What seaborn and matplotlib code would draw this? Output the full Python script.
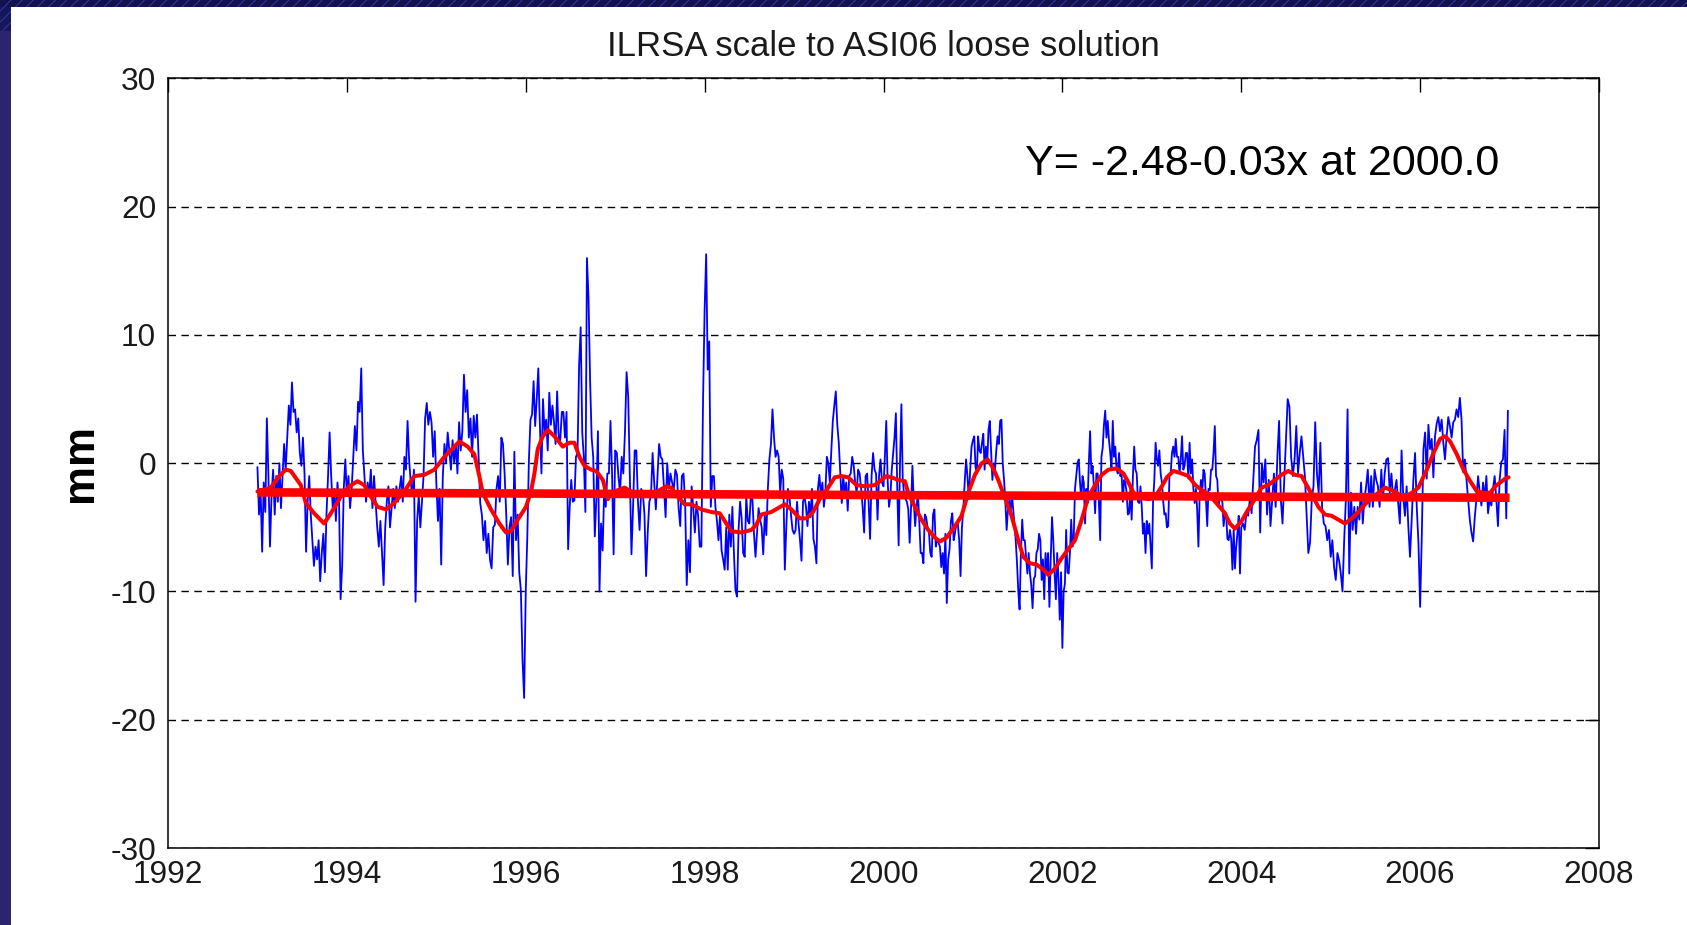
import numpy as np
import pandas as pd
import matplotlib
matplotlib.use("Agg")
import matplotlib.pyplot as plt
import seaborn as sns
from matplotlib.patches import Rectangle

# ---------------- data ----------------
years = list(range(1993, 2007))

blue_1993 = [-0.3, -4.0, -2.0, -6.9, -1.5, -3.8, 3.5, -1.0, -6.5, -2.5,
             -0.5, -4.0, -1.0, -3.0, 0.0, -3.5, -1.0, 1.5, -0.5, 2.0,
             4.5, 3.0, 6.3, 4.0, 4.2, 2.4, 3.5, 0.8, -0.2, 2.0,
             -0.8, -6.9, -3.0, -1.0, -4.0, -6.0, -8.0, -6.5, -7.5, -6.0,
             -9.2, -7.0, -5.5, -8.5, -4.0, -1.0, 2.4, -1.0, -3.5, -2.0,
             -4.5, -1.5, -3.0, -10.6, -8.0, -2.0, 0.3]
blue_1994 = [-2.5, -1.0, -3.5, -2.0, 0.5, 2.9, 1.0, 4.8, 4.0, 7.4,
             1.0, -1.0, -3.0, -1.5, -2.5, -0.5, -3.5, -1.0, -3.0, -5.0,
             -6.5, -4.5, -7.0, -9.5, -5.0, -3.0, -1.8, -5.0, -3.5, -2.0,
             -3.5, -1.8, -3.0, -2.0, -1.0, -3.0, 0.5, -0.5, 3.3, 0.2,
             -1.5, -2.5, -0.5, -10.8, -4.5, -2.5, -5.0, -3.0, -1.0, 3.5,
             4.7, 3.0, 4.0, 3.2, 0.5, 2.5]
blue_1995 = [-1.5, -4.5, -2.0, -7.9, -1.0, 1.5, 0.0, 2.4, 1.0, -0.5,
             1.8, 0.0, 1.5, -0.8, 3.2, 1.0, 2.5, 6.9, 4.0, 5.7,
             2.0, 3.5, 0.5, 3.7, 2.0, 3.8, 0.5, -3.1, -4.0, -6.0,
             -4.5, -7.0, -5.5, -7.5, -8.2, -5.0, -4.8, -2.0, -1.0, -3.0,
             2.0, 1.5, -0.8, -4.0, -7.9, -5.0, -4.2, -8.8, 0.9, -6.0,
             -4.0, -8.5, -9.9, -15.3, -18.3]
blue_1996 = [-10.0, -5.7, 0.2, 3.4, 3.8, 6.4, 2.9, 5.0, 7.4, 3.0,
             -0.8, 5.0, 2.4, 3.4, 1.0, 5.5, 3.0, 4.5, 3.2, 1.5,
             5.6, 2.0, 1.8, 4.0, 4.0, 2.0, 4.0, -6.7, -3.4, -1.3,
             -3.0, -2.9, 0.5, 0.8, 7.6, 10.6, 2.4, 0.5, -3.8, 16.0,
             12.9, 6.5, 2.0, 0.5, -5.7, -2.8, 2.5, -10.0, -4.7, -6.8,
             -2.0, -3.4, -0.8, -0.8, 3.3, -0.8, -7.1]
blue_1997 = [1.0, 0.8, -1.0, -2.3, 0.5, -0.8, 2.4, 7.1, 5.2, -0.8,
             -7.1, -3.4, 1.0, 1.0, -3.0, -5.2, -2.0, -2.3, -4.0, -8.8,
             -5.4, -3.0, -2.6, 0.8, -1.5, -3.6, -1.0, 1.5, 0.5, 0.3,
             -2.0, -4.2, 0.0, -2.0, -0.8, -1.5, -2.1, -0.5, -0.9, -3.5,
             -4.9, -1.0, -0.8, -3.0, -9.5, -6.0, -8.5, -1.8, -3.5, -5.4,
             -3.0, -4.1, -6.5, -6.5, 4.7]
blue_1998 = [12.0, 16.3, 7.3, 9.5, -3.4, -1.0, -1.0, -3.4, -4.5, -6.0,
             -4.0, -6.8, -7.5, -8.3, -5.0, -8.3, -4.0, -6.5, -3.4, -7.0,
             -9.9, -10.4, -5.2, -3.0, -4.3, -7.0, -7.3, -2.6, -4.5, -4.7,
             -2.5, -2.8, -5.5, -7.3, -5.4, -3.5, -4.4, -5.0, -7.1, -4.0,
             -5.6, -2.0, 0.3, 1.5, 4.2, 2.0, 0.5, 1.0, 0.5, -2.3,
             -0.5, -1.2, -8.3, -4.9, -2.0, -2.6, -4.0, -5.2]
blue_1999 = [-5.5, -5.2, -3.0, -4.7, -6.0, -7.6, -3.0, -2.6, -3.4, -4.9,
             -3.0, -4.2, -2.0, -5.9, -6.5, -7.8, -2.0, -0.9, -2.6, -1.5,
             -3.4, -2.3, 0.5, 0.0, -1.5, 1.0, 3.3, 4.5, 5.6, 3.0,
             1.6, -0.8, -3.1, -1.0, -2.3, -1.5, -3.7, -1.0, -0.8, 0.5,
             -0.2, -1.5, -2.3, -0.5, -0.8, -2.0, -3.4, -5.4, -1.0, -0.8,
             -3.0, -5.9, -1.0, 0.8, -0.5, -0.8, -4.4, -1.0, 0.3, -1.5]
blue_2000 = [-1.8, 0.5, 3.3, -1.3, -3.4, -2.6, -0.5, 0.8, 2.0, 3.9,
             -2.0, -6.4, 0.0, 4.6, -1.3, -2.5, -2.8, -3.0, -3.6, -6.2,
             -3.5, -0.2, -3.0, -4.9, -3.4, -2.3, -4.5, -7.0, -7.0, -7.8,
             -4.0, -4.2, -5.0, -5.3, -7.0, -7.3, -4.0, -3.6, -6.5, -5.9,
             -6.2, -6.5, -8.1, -7.0, -8.6, -5.5, -10.9, -7.5, -6.7, -4.5,
             -3.9, -6.0, -5.4, -4.7, -4.7, -6.0, -8.8, -5.0, -3.6, -1.5,
             0.3, -1.0, -2.8, -0.5, 1.3]
blue_2001 = [1.8, 2.1, -0.3, -0.8, 2.1, 1.0, 0.8, 1.6, 2.3, -0.5,
             1.3, 0.0, 2.6, 3.3, 1.0, -1.3, 0.0, -0.5, 1.0, 2.1,
             1.5, 3.3, 3.4, 0.0, -1.3, -3.0, -5.2, -3.6, -2.9, -4.0,
             -2.3, -3.5, -4.7, -6.0, -7.8, -10.0, -11.4, -7.0, -4.4, -6.0,
             -6.0, -7.3, -8.6, -7.0, -8.6, -9.5, -11.3, -9.0, -8.8, -7.0,
             -6.7, -5.5, -6.0, -9.1, -7.5, -10.6, -7.0, -8.6, -7.0, -11.2,
             -7.5, -4.2, -6.0, -8.6, -10.6, -7.0, -9.0, -12.2, -8.5]
blue_2002 = [-14.4, -10.0, -9.4, -5.2, -8.5, -8.6, -7.0, -4.4, -6.5, -5.9,
             -2.0, -1.0, 0.0, 0.3, -1.5, -2.8, -1.0, -1.5, -4.7, -2.0,
             -3.1, 0.0, 2.5, -0.8, -0.2, -1.8, -3.9, -0.8, -0.8, -3.0,
             -6.0, 0.5, 1.2, 3.0, 4.1, 2.0, 3.3, 1.8, 0.8, -0.5,
             3.3, 0.5, 1.3, -0.5, -0.8, 0.8, -1.0, -0.8, -3.0, -1.3,
             -1.5, -2.3, -4.0, -3.9, -2.0, -4.4, -1.0, 1.3, -0.5, -0.8,
             -3.0, -3.1, -1.8, -3.4, -5.5, -4.7, -7.0, -4.5, -5.5, -4.7,
             -6.5]
blue_2003 = [-8.2, -3.0, -1.3, 1.6, 0.3, -0.2, 1.0, -0.8, -1.5, -2.9,
             -4.0, -3.9, -5.0, -4.9, -1.0, -0.8, 0.8, 1.3, 0.5, 1.9,
             0.5, 0.5, -0.8, 0.3, 2.1, -0.5, -0.2, 0.8, 0.8, -1.2,
             1.6, -0.8, 0.3, -2.0, -3.1, -2.0, -3.6, -6.5, -2.5, -1.3,
             -2.3, -0.5, -0.8, -2.9, -4.9, -2.0, -2.1, -0.5, -0.5, 0.8,
             2.9, -1.0, -1.3, -3.4, -2.6, -2.8, -3.0, -4.9, -3.9, -3.9,
             -5.9, -6.0, -5.2, -5.9, -8.3, -5.2, -8.2, -6.5, -5.4, -4.1,
             -8.6]
blue_2004 = [-5.0, -4.7, -5.2, -3.9, -4.1, -2.8, -3.9, -1.3, 1.3, 1.8,
             2.6, -5.4, 0.0, -1.5, 0.3, -4.0, -1.3, -4.9, -2.8, -0.8,
             -3.4, 0.5, 3.3, -2.8, -4.7, -1.3, 1.8, 5.0, 4.4, 0.5,
             -1.0, 0.3, 2.9, -0.8, 0.8, 2.1, 0.5, -1.0, -4.1, -7.0,
             -6.2, -2.8, -1.8, 3.2, -0.8, -2.3, 1.6, -3.4, -4.7, -4.9,
             -6.0, -5.2]
blue_2005 = [-7.3, -6.0, -8.1, -9.1, -7.0, -7.6, -8.6, -10.0, -6.0, -2.8,
             4.2, -8.6, -2.3, -5.2, -3.4, -5.5, -3.4, -4.4, -1.5, -4.7,
             -2.8, -1.8, -0.5, -3.4, -1.0, -3.4, -0.5, -1.3, -1.8, -3.4,
             -0.5, -2.8, -0.8, 0.3, 0.4, -2.3, -0.8, -2.8, -2.1, -1.3,
             -3.1, -4.7, 1.0, -2.6, -4.1, -1.8, -4.9, -7.3, -4.4, -1.3,
             0.8, -3.4, -6.2]
blue_2006 = [-11.2, -5.7, 1.1, 2.4, -1.2, 3.0, 1.1, 1.9, -1.1, 2.1,
             3.1, 3.6, 2.5, 3.4, 1.6, 0.3, 2.1, 3.6, 2.9, 2.0,
             3.2, 3.4, 4.2, 3.6, 5.1, 3.4, -0.7, 0.3, -1.3, -2.8,
             -4.4, -5.4, -6.1, -4.2, -2.8, -1.0, -2.3, -3.3, -1.5, -2.8,
             -1.0, -3.9, -2.8, -3.3, -2.0, -1.0, -2.8, -4.9, -1.3, 0.1,
             0.3, 2.6, -4.3, 4.1]

blue_by_year = [blue_1993, blue_1994, blue_1995, blue_1996, blue_1997,
                blue_1998, blue_1999, blue_2000, blue_2001, blue_2002,
                blue_2003, blue_2004, blue_2005, blue_2006]

red_years = [1993.0, 1993.149, 1993.243, 1993.317, 1993.373, 1993.485, 1993.541,
             1993.634, 1993.746, 1993.821, 1993.933, 1994.026, 1994.119, 1994.194,
             1994.269, 1994.343, 1994.437, 1994.530, 1994.642, 1994.754, 1994.866,
             1994.978, 1995.090, 1995.202, 1995.258, 1995.351, 1995.425, 1995.481,
             1995.518, 1995.612, 1995.705, 1995.779, 1995.835, 1995.910, 1996.003,
             1996.059, 1996.097, 1996.134, 1996.190, 1996.246, 1996.321, 1996.414,
             1996.488, 1996.544, 1996.600, 1996.656, 1996.731, 1996.787, 1996.862,
             1996.918, 1996.955, 1997.030, 1997.104, 1997.179, 1997.291, 1997.403,
             1997.496, 1997.571, 1997.627, 1997.701, 1997.776, 1997.851, 1997.963,
             1998.074, 1998.168, 1998.224, 1998.299, 1998.411, 1998.522, 1998.578,
             1998.634, 1998.746, 1998.821, 1998.896, 1998.970, 1999.064, 1999.138,
             1999.213, 1999.287, 1999.343, 1999.399, 1999.455, 1999.530, 1999.605,
             1999.698, 1999.791, 1999.903, 1999.978, 2000.034, 2000.090, 2000.164,
             2000.239, 2000.276, 2000.351, 2000.425, 2000.500, 2000.575, 2000.631,
             2000.705, 2000.799, 2000.873, 2000.948, 2001.022, 2001.097, 2001.164,
             2001.227, 2001.283, 2001.358, 2001.432, 2001.507, 2001.563, 2001.638,
             2001.712, 2001.787, 2001.843, 2001.918, 2001.992, 2002.067, 2002.141,
             2002.216, 2002.291, 2002.366, 2002.440, 2002.515, 2002.608, 2002.683,
             2002.739, 2002.795, 2002.888, 2002.962, 2003.037, 2003.112, 2003.168,
             2003.242, 2003.336, 2003.410, 2003.485, 2003.559, 2003.634, 2003.709,
             2003.783, 2003.817, 2003.873, 2003.929, 2004.004, 2004.078, 2004.153,
             2004.227, 2004.302, 2004.377, 2004.451, 2004.526, 2004.601, 2004.675,
             2004.731, 2004.787, 2004.862, 2004.936, 2005.011, 2005.086, 2005.160,
             2005.235, 2005.310, 2005.384, 2005.459, 2005.533, 2005.608, 2005.683,
             2005.757, 2005.832, 2005.907, 2005.981, 2006.075, 2006.149, 2006.224,
             2006.280, 2006.336, 2006.410, 2006.485, 2006.560, 2006.634, 2006.709,
             2006.784, 2006.840, 2006.896, 2006.951, 2006.989]
red_mm = [-2.2, -1.9, -1.0, -0.5, -0.6, -1.7, -3.1,
          -3.9, -4.7, -3.9, -2.6, -1.8, -1.4, -1.7,
          -2.6, -3.4, -3.6, -3.1, -2.2, -1.0, -0.9,
          -0.5, 0.5, 1.3, 1.7, 1.3, 0.7, -1.0,
          -2.3, -3.6, -4.7, -5.4, -5.3, -4.4, -3.4,
          -2.2, -0.8, 1.1, 2.1, 2.6, 2.1, 1.3,
          1.6, 1.6, 0.5, -0.2, -0.5, -0.6, -1.3,
          -2.8, -2.3, -2.1, -1.9, -2.2, -2.4, -2.4,
          -2.1, -1.8, -1.9, -2.6, -3.2, -3.2, -3.6,
          -3.8, -3.9, -4.5, -5.3, -5.4, -5.2, -4.8,
          -4.0, -3.8, -3.5, -3.2, -3.6, -4.3, -4.3,
          -3.8, -2.8, -2.3, -1.7, -1.1, -1.0, -1.1,
          -1.7, -1.8, -1.7, -1.3, -1.0, -1.1, -1.3,
          -1.4, -2.3, -3.4, -4.4, -5.2, -5.8, -6.1,
          -5.8, -4.9, -4.1, -2.3, -0.9, 0.0, 0.3,
          -0.4, -1.3, -2.7, -4.1, -6.0, -7.3, -7.8,
          -7.9, -8.3, -8.7, -8.2, -7.4, -6.7, -6.0,
          -4.4, -2.6, -1.7, -0.9, -0.5, -0.4, -0.8,
          -1.5, -2.3, -2.7, -2.8, -2.6, -1.8, -1.1,
          -0.6, -0.8, -1.0, -1.7, -2.1, -2.4, -3.0,
          -3.6, -3.9, -4.7, -5.1, -4.5, -3.6, -2.8,
          -1.9, -1.7, -1.3, -0.9, -0.6, -0.9, -1.0,
          -1.7, -2.4, -3.4, -4.0, -4.1, -4.4, -4.7,
          -4.3, -3.8, -3.2, -2.7, -2.3, -1.9, -2.1,
          -2.4, -2.6, -2.3, -1.9, -0.5, 0.8, 1.9,
          2.1, 1.7, 0.7, -0.5, -1.4, -2.2, -2.3,
          -2.3, -1.8, -1.5, -1.2, -1.1]

trend_years = [1993.0, 2007.0]
trend_mm = [-2.27, -2.69]

title_text = "ILRSA scale to ASI06 loose solution"
equation_text = "Y= -2.48-0.03x at 2000.0"
ylabel_text = "mm"
xtick_values = [1992, 1994, 1996, 1998, 2000, 2002, 2004, 2006, 2008]
ytick_values = [-30, -20, -10, 0, 10, 20, 30]

# ---------------- build tables ----------------
blue_t = np.concatenate([y + np.arange(len(v)) / len(v) for y, v in zip(years, blue_by_year)])
blue_v = np.concatenate([np.asarray(v, dtype=float) for v in blue_by_year])
blue_df = pd.DataFrame({"year": blue_t, "mm": blue_v})
red_df = pd.DataFrame({"year": red_years, "mm": red_mm})
trend_df = pd.DataFrame({"year": trend_years, "mm": trend_mm})

# ---------------- style ----------------
sns.set_theme(style="white")
plt.rcParams["font.family"] = ["Liberation Sans", "DejaVu Sans"]
plt.rcParams["hatch.linewidth"] = 0.8

W, H = 1687, 925
fig = plt.figure(figsize=(W / 100, H / 100), dpi=100, facecolor="white")

# slide border (navy)
fig.patches.append(Rectangle((0, 1 - 7 / H), 1, 7 / H, transform=fig.transFigure,
                             facecolor="#12124e", edgecolor="#34349a", hatch="///",
                             linewidth=0, zorder=0))
fig.patches.append(Rectangle((0, 0), 11 / W, 1 - 7 / H, transform=fig.transFigure,
                             facecolor="#2d2470", edgecolor="none", linewidth=0, zorder=0))
fig.patches.append(Rectangle((0, 1 - 31 / H), 11 / W, 24 / H, transform=fig.transFigure,
                             facecolor="#16165a", edgecolor="#34349a", hatch="///",
                             linewidth=0, zorder=0))

ax_left, ax_right, ax_top, ax_bottom = 168, 1599, 78.5, 848
ax = fig.add_axes([ax_left / W, 1 - ax_bottom / H, (ax_right - ax_left) / W,
                   (ax_bottom - ax_top) / H])
ax.set_facecolor("white")

sns.lineplot(data=blue_df, x="year", y="mm", ax=ax, color="#0000ff", linewidth=1.3,
             estimator=None, sort=False, zorder=3)
sns.lineplot(data=red_df, x="year", y="mm", ax=ax, color="#ff0000", linewidth=2.9,
             estimator=None, sort=False, zorder=4)
sns.lineplot(data=trend_df, x="year", y="mm", ax=ax, color="#ff0000", linewidth=6.2,
             estimator=None, sort=False, zorder=5, solid_capstyle="butt")

ax.set_xlim(1992, 2008)
ax.set_ylim(-30, 30)
ax.set_xticks(xtick_values)
ax.set_yticks(ytick_values)
ax.set_xticklabels([str(v) for v in xtick_values])
ax.set_yticklabels([str(v) for v in ytick_values])

ax.yaxis.grid(True, color="black", linestyle=(0, (5.4, 3.9)), linewidth=1.0)
ax.xaxis.grid(False)
ax.set_axisbelow(True)

ax.tick_params(axis="both", direction="in", length=10, width=1.0, top=True, right=True,
               labelsize=22.8, pad=8.5, colors="black", labelcolor="#1a1a1a")
for lbl in ax.get_xticklabels() + ax.get_yticklabels():
    lbl.set_fontfamily(["Liberation Sans Narrow", "Liberation Sans", "DejaVu Sans"])

for sp in ax.spines.values():
    sp.set_visible(True)
    sp.set_color("black")
    sp.set_linewidth(1.1)

ax.set_title(title_text, fontsize=25, pad=16, color="#1a1a1a",
             fontfamily=["Liberation Sans", "DejaVu Sans"])
ax.set_xlabel("")
ax.set_ylabel(ylabel_text, fontsize=31.5, fontweight="bold", color="black")
ax.yaxis.set_label_coords(-0.0465, 0.5)

ax.text(2001.58, 22.44, equation_text, fontsize=31, ha="left", va="baseline",
        color="black", fontfamily=["Liberation Sans", "DejaVu Sans"])

fig.savefig("out.png", dpi=100, facecolor="white")
